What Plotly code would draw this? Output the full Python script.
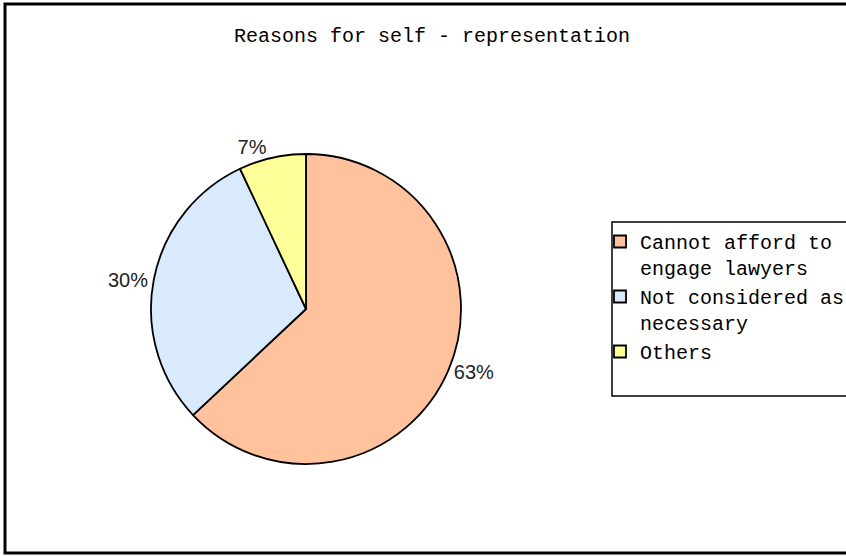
import plotly.graph_objects as go

W, H = 846, 556

labels = ["Cannot afford to<br>engage lawyers", "Not considered as<br>necessary", "Others"]
values = [63, 30, 7]
colors = ["#FFC29C", "#D8EAFC", "#FFFF99"]
title_text = "Reasons for self - representation"

def px_x(x):
    return x / W

def px_y(y):
    return 1 - y / H

fig = go.Figure(
    go.Pie(
        labels=labels,
        values=values,
        sort=False,
        direction="clockwise",
        rotation=0,
        marker=dict(colors=colors, line=dict(color="black", width=1.8)),
        textinfo="percent",
        textposition="outside",
        textfont=dict(family="Liberation Sans Narrow, Liberation Sans, Arial", size=20, color="#222"),
        hoverinfo="none",
        domain=dict(x=[px_x(151), px_x(461)], y=[px_y(464), px_y(154)]),
    )
)

fig.update_layout(
    width=W,
    height=H,
    margin=dict(l=0, r=0, t=0, b=0, autoexpand=False),
    paper_bgcolor="white",
    plot_bgcolor="white",
    title=dict(
        text=title_text,
        x=px_x(432), xref="container", xanchor="center",
        y=px_y(35), yref="container", yanchor="middle",
        font=dict(family="Liberation Mono, DejaVu Sans Mono", size=20, color="black"),
    ),
    legend=dict(
        x=px_x(600), xref="paper", xanchor="left",
        y=px_y(222), yref="paper", yanchor="top",
        font=dict(family="Liberation Mono, DejaVu Sans Mono", size=20, color="black"),
        bgcolor="rgba(0,0,0,0)",
        borderwidth=0,
        valign="top",
    ),
    shapes=[
        dict(type="rect", xref="paper", yref="paper",
             x0=px_x(5), x1=1.02, y0=px_y(553), y1=px_y(4),
             line=dict(color="black", width=3), fillcolor="rgba(0,0,0,0)", layer="below"),
        dict(type="rect", xref="paper", yref="paper",
             x0=px_x(612), x1=1.02, y0=px_y(396), y1=px_y(222),
             line=dict(color="black", width=1.5), fillcolor="rgba(0,0,0,0)", layer="below"),
    ],
)

fig.write_html("out.html")
